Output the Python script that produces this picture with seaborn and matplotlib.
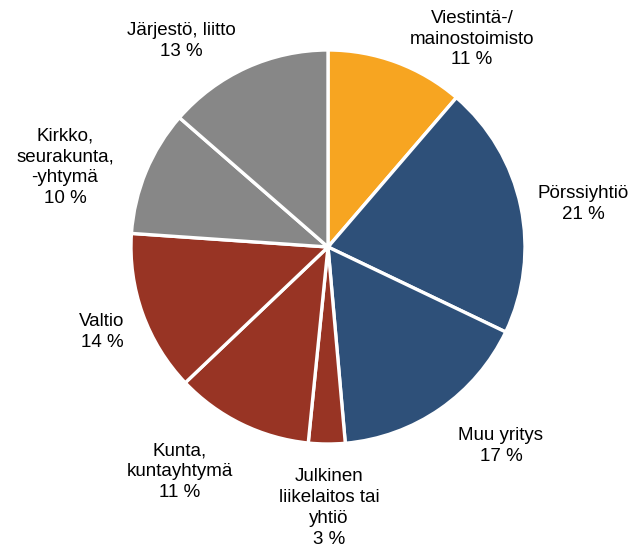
import matplotlib
matplotlib.use("Agg")
import matplotlib.pyplot as plt
import seaborn as sns

categories = ["Viestintä-/\nmainostoimisto", "Pörssiyhtiö", "Muu yritys",
              "Julkinen\nliikelaitos tai\nyhtiö", "Kunta,\nkuntayhtymä", "Valtio",
              "Kirkko,\nseurakunta,\n-yhtymä", "Järjestö, liitto"]
# slice shares
values = [11.3, 20.8, 16.5, 3.0, 11.3, 13.2, 10.3, 13.6]
# percentages printed in the labels
pct_labels = ["11 %", "21 %", "17 %", "3 %", "11 %", "14 %", "10 %", "13 %"]
colors = ["#F7A521", "#2E5079", "#2E5079", "#983424", "#983424", "#983424",
          "#878787", "#878787"]

# label anchor positions (pixels from top-left of figure)
label_pos = [(472, 39), (583, 204), (501, 446), (329, 508), (180, 472),
             (102, 332), (65, 167), (181, 41)]

sns.set_theme(style="white")
plt.rcParams['font.family'] = ['Liberation Sans', 'DejaVu Sans']

W, H = 637, 551
fig = plt.figure(figsize=(W / 100, H / 100), dpi=100)
ax = fig.add_axes([0, 0, 1, 1])

ax.pie(values, colors=colors, startangle=90, counterclock=False,
       center=(328, H - 247), radius=197, frame=True,
       wedgeprops=dict(edgecolor="white", linewidth=2.4))
ax.set_xlim(0, W)
ax.set_ylim(0, H)
ax.set_aspect('equal')
ax.axis('off')

for cat, p, (x, y) in zip(categories, pct_labels, label_pos):
    ax.text(x, H - y, f"{cat}\n{p}", ha="center", va="center",
            fontsize=13.5, color="black", linespacing=1.3)

fig.savefig("out.png", dpi=100)
